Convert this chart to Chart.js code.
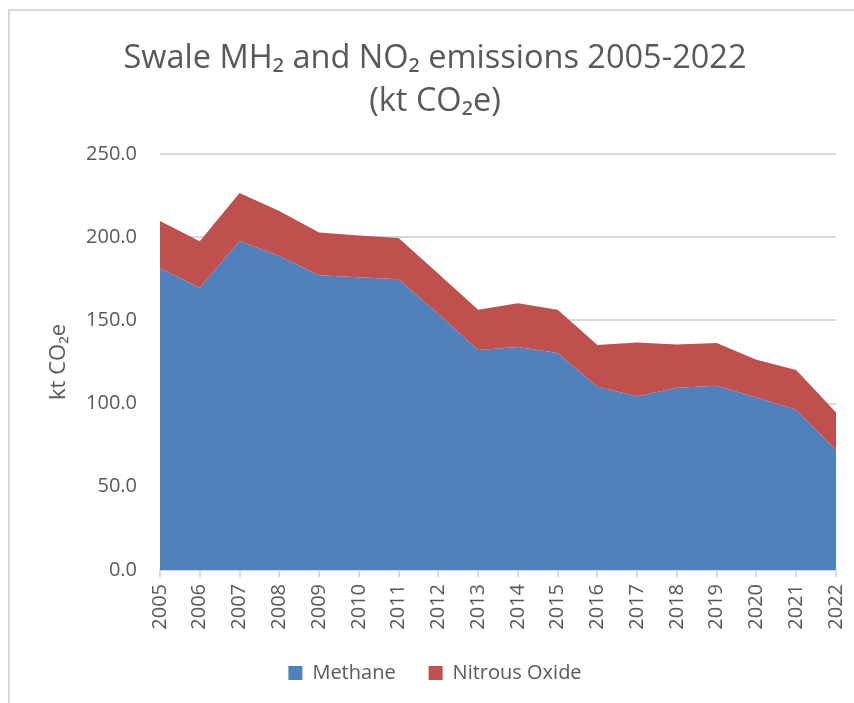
<!DOCTYPE html>
<html>
<head>
<meta charset="utf-8">
<script src="https://cdn.jsdelivr.net/npm/chart.js@4"></script>
<style>
    html, body { margin: 0; padding: 0; background: #ffffff; }
    #wrap { width: 854px; height: 703px; }
</style>
</head>
<body>
<div id="wrap"><canvas id="myChart" width="854" height="703"></canvas></div>
<script>
const years = ['2005', '2006', '2007', '2008', '2009', '2010', '2011', '2012', '2013',
    '2014', '2015', '2016', '2017', '2018', '2019', '2020', '2021', '2022'];
const methane = [181.3, 169.5, 197.6, 188.6, 177.1, 175.9, 174.7, 153.8, 132.2,
    134.0, 130.4, 110.1, 104.4, 109.5, 110.7, 103.6, 96.2, 71.9];
const nitrousOxide = [28.3, 27.9, 28.9, 27.1, 25.7, 25.1, 24.7, 24.2, 24.1,
    26.2, 25.9, 25.1, 32.2, 25.9, 25.7, 22.7, 23.9, 22.7];
const titleLines = ['Swale MH\u2082 and NO\u2082 emissions 2005-2022', '(kt CO\u2082e)'];
const yTitle = 'kt CO\u2082e';

const textColor = '#595959';
const gridColor = '#d9d9d9';
const fontName = '"Open Sans", "Noto Sans", sans-serif';

// light frame round the chart, like the spreadsheet chart box
const framePlugin = {
    id: 'frame',
    beforeDraw(chart) {
        const c = chart.ctx;
        c.save();
        c.fillStyle = '#ffffff';
        c.fillRect(0, 0, chart.width, chart.height);
        c.strokeStyle = gridColor;
        c.lineWidth = 2;
        c.strokeRect(9, 10, chart.width + 20, chart.height + 20);
        c.restore();
    }
};

var ctx = document.getElementById('myChart').getContext('2d');
var myChart = new Chart(ctx, { //eslint-disable-line
    type: 'line',
    data: {
        labels: years,
        datasets: [{
            label: 'Methane',
            data: methane,
            backgroundColor: '#4f81bd',
            borderColor: '#4f81bd',
            borderWidth: 0,
            pointRadius: 0,
            fill: 'origin'
        },
        {
            label: 'Nitrous Oxide',
            data: nitrousOxide,
            backgroundColor: '#c0504d',
            borderColor: '#c0504d',
            borderWidth: 0,
            pointRadius: 0,
            fill: '-1'
        }]
    },
    options: {
        responsive: false,
        animation: false,
        layout: { padding: { left: 34, right: 18, top: 0, bottom: 10 } },
        plugins: {
            title: {
                display: true,
                text: titleLines,
                color: textColor,
                font: { family: fontName, size: 32.5, weight: 'normal', lineHeight: 1.32 },
                padding: { top: 37, bottom: 31 }
            },
            legend: {
                position: 'bottom',
                labels: {
                    color: textColor,
                    font: { family: fontName, size: 20 },
                    boxWidth: 14,
                    boxHeight: 14,
                    padding: 33
                }
            },
            tooltip: { enabled: false }
        },
        scales: {
            x: {
                offset: false,
                grid: {
                    display: true,
                    drawOnChartArea: false,
                    drawTicks: true,
                    tickLength: 7,
                    color: gridColor,
                    lineWidth: 2
                },
                border: { color: gridColor, width: 2 },
                ticks: {
                    color: textColor,
                    font: { family: fontName, size: 20 },
                    minRotation: 90,
                    maxRotation: 90,
                    autoSkip: false,
                    padding: 7
                },
                afterFit(scale) {
                    scale.height = 60;
                    scale.paddingLeft = 0;
                    scale.paddingRight = 0;
                }
            },
            y: {
                stacked: true,
                min: 0,
                max: 250,
                grid: { color: gridColor, lineWidth: 2, drawTicks: false },
                border: { display: false },
                ticks: {
                    stepSize: 50,
                    color: textColor,
                    font: { family: fontName, size: 20 },
                    padding: 23,
                    callback: (v) => v.toFixed(1)
                },
                title: {
                    display: true,
                    text: yTitle,
                    color: textColor,
                    font: { family: fontName, size: 22 },
                    padding: { top: 12, bottom: 0 }
                },
                afterFit(scale) { scale.width = 126; }
            }
        }
    },
    plugins: [framePlugin]
});
</script>
</body>
</html>
